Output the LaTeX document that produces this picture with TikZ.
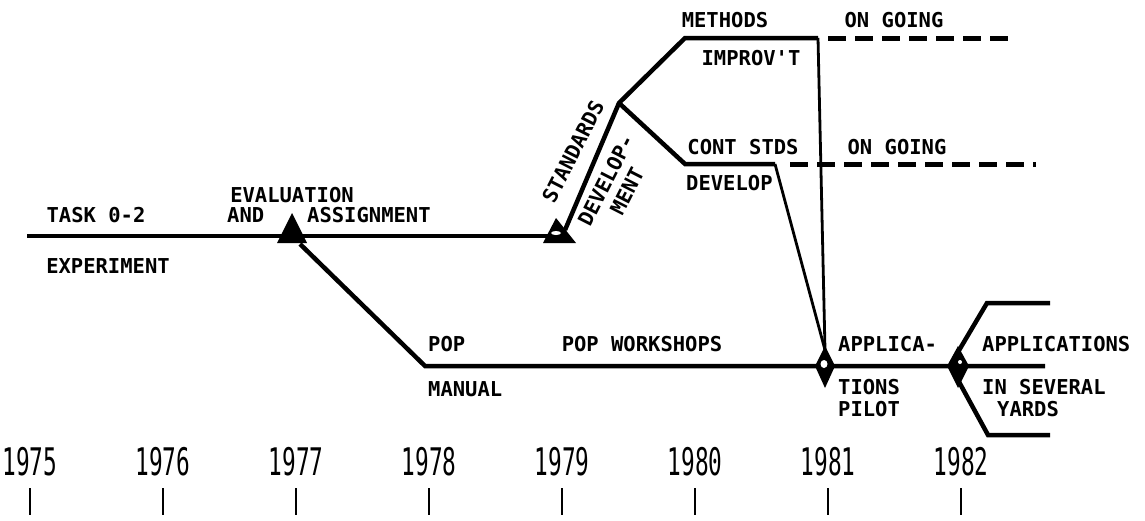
\documentclass[tikz,border=0pt]{standalone}
\usepackage{fontspec}
\setmonofont{DejaVu Sans Mono}
\usetikzlibrary{shapes.geometric}
\begin{document}
\begin{tikzpicture}[x=1pt,y=-1pt,
  lbl/.style={font=\ttfamily\bfseries\fontsize{20.5}{23}\selectfont, inner sep=0pt},
  rlbl/.style={lbl, rotate=63, align=center},
  heavy/.style={line width=4.5pt, line join=miter},
  light/.style={line width=2.8pt, line join=miter},
  dashline/.style={line width=5pt, dash pattern=on 18pt off 9pt},
  yr/.style={font=\ttfamily\fontsize{38}{40}\selectfont, inner sep=0pt},
  tickline/.style={line width=1.8pt}]
\useasboundingbox (0,0) rectangle (1145,520);

% key points
\coordinate (start) at (27,236);
\coordinate (tri1) at (292,236);
\coordinate (tri1r) at (300,244);
\coordinate (tri2) at (557,236);
\coordinate (tri2r) at (565,230);
\coordinate (popL) at (425,366);
\coordinate (dia1) at (825,366);
\coordinate (dia1t) at (825,350);
\coordinate (dia2) at (958,366);
\coordinate (dia2t) at (958,352);
\coordinate (dia2b) at (958,380);
\coordinate (appE) at (1045,366);
\coordinate (br) at (619,103);
\coordinate (mA) at (685,38);
\coordinate (mB) at (818,38);
\coordinate (cA) at (685,164);
\coordinate (cB) at (775,164);
\coordinate (upA) at (987,303);
\coordinate (upB) at (1050,303);
\coordinate (loA) at (988,435);
\coordinate (loB) at (1050,435);
\coordinate (md1) at (828,38);
\coordinate (md2) at (1013,38);
\coordinate (cd1) at (790,164);
\coordinate (cd2) at (1036,164);

% main lines
\draw[heavy] (start) -- (tri2);
\draw[heavy] (tri1r) -- (popL) -- (appE);
\draw[heavy] (tri2r) -- (br) -- (mA) -- (mB);
\draw[heavy] (br) -- (cA) -- (cB);
\draw[light] (mB) -- (dia1t);
\draw[light] (cB) -- (dia1t);
\draw[heavy] (dia2t) -- (upA) -- (upB);
\draw[heavy] (dia2b) -- (loA) -- (loB);
\draw[dashline] (md1) -- (md2);
\draw[dashline] (cd1) -- (cd2);

% milestones
\fill (277,243) -- (292,213) -- (307,243) -- cycle;
\fill (543,243) -- (556,218) -- (576,243) -- cycle;
\fill[white] (556,233) ellipse (5pt and 2pt);
\fill (dia1) ++(0,-20) -- ++(10,20) -- ++(-10,22) -- ++(-10,-22) -- cycle;
\fill[white] (824,364) ellipse (3.5pt and 4pt);
\fill (dia2) ++(0,-20) -- ++(11,20) -- ++(-11,22) -- ++(-11,-22) -- cycle;
\fill[white] (960,362) ellipse (2pt and 2pt);

% labels
\node[lbl] (task) at (96,215) {TASK 0-2};
\node[lbl] (exper) at (108,266) {EXPERIMENT};
\node[lbl] (eval) at (292,195) {EVALUATION};
\node[lbl, anchor=west] (and) at (227,215) {AND};
\node[lbl, anchor=west] (assign) at (307,215) {ASSIGNMENT};
\node[rlbl] (stds) at (573,152) {STANDARDS};
\node[rlbl] (devel) at (606,180) {DEVELOP-};
\node[rlbl] (ment) at (627,191) {MENT};
\node[lbl] (meth) at (725,20) {METHODS};
\node[lbl] (improv) at (751,58) {IMPROV'T};
\node[lbl] (og1) at (894,20) {ON GOING};
\node[lbl] (cont) at (743,147) {CONT STDS};
\node[lbl] (og2) at (897,147) {ON GOING};
\node[lbl, anchor=west] (dev2) at (686,183) {DEVELOP};
\node[lbl, anchor=west] (pop) at (428,344) {POP};
\node[lbl, anchor=west] (manual) at (428,389) {MANUAL};
\node[lbl] (popw) at (642,344) {POP WORKSHOPS};
\node[lbl, anchor=west] (applica) at (838,344) {APPLICA-};
\node[lbl, anchor=west] (tions) at (838,387) {TIONS};
\node[lbl, anchor=west] (pilot) at (838,409) {PILOT};
\node[lbl, anchor=west] (apps) at (982,344) {APPLICATIONS};
\node[lbl, anchor=west] (insev) at (982,387) {IN SEVERAL};
\node[lbl, anchor=west] (yards) at (997,409) {YARDS};

% time axis
\foreach \yy [count=\i from 0] in {1975,1976,1977,1978,1979,1980,1981,1982} {
  \pgfmathsetmacro{\xx}{30+133*\i}
  \node[yr] (y\yy) at (\xx,462) {\scalebox{0.6}[1]{\yy}};
  \coordinate (tt\yy) at (\xx,488);
  \coordinate (tb\yy) at (\xx,515);
  \draw[tickline] (tt\yy) -- (tb\yy);
}
\end{tikzpicture}
\end{document}
